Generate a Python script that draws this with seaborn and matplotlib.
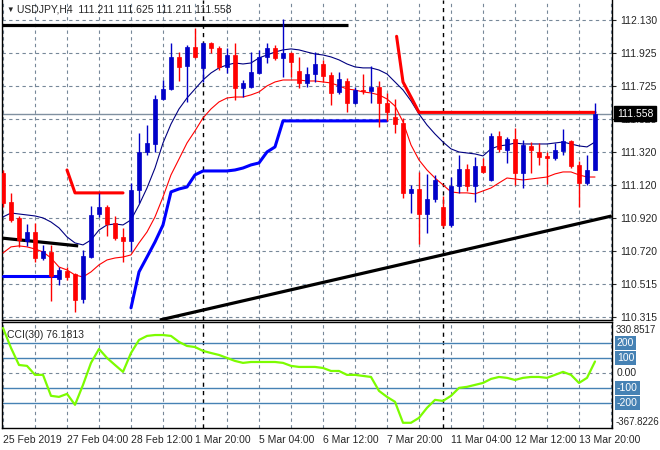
import numpy as np
import pandas as pd
import matplotlib
matplotlib.use("Agg")
import matplotlib.pyplot as plt
import matplotlib.transforms as mtransforms
import seaborn as sns

# ---- data (USDJPY H4, one entry per bar) ----
opens = [111.195, 111.018, 110.920, 110.779, 110.834, 110.675, 110.712, 110.547, 110.596, 110.578,
         110.425, 110.681, 110.944, 110.987, 110.889, 110.804, 110.779, 111.091, 111.323, 111.372,
         111.647, 111.708, 111.904, 111.849, 111.965, 111.837, 111.989, 111.959, 111.843, 111.916,
         111.714, 111.720, 111.806, 111.904, 111.959, 111.898, 111.928, 111.818, 111.745, 111.800,
         111.861, 111.794, 111.690, 111.757, 111.623, 111.702, 111.696, 111.720, 111.623, 111.537,
         111.500, 111.073, 111.097, 110.944, 111.036, 110.987, 110.877, 111.115, 111.219, 111.115,
         111.238, 111.152, 111.421, 111.335, 111.403, 111.195, 111.360, 111.323, 111.299, 111.287,
         111.329, 111.391, 111.244, 111.134, 111.211]
highs = [111.213, 111.073, 110.932, 110.883, 110.889, 110.755, 110.755, 110.620, 110.620, 110.584,
         110.724, 110.993, 111.073, 110.999, 110.932, 110.859, 111.134, 111.439, 111.488, 111.672,
         111.763, 111.989, 111.934, 111.977, 112.081, 111.996, 111.996, 111.971, 111.959, 111.989,
         111.763, 111.934, 111.947, 111.989, 111.977, 112.136, 111.934, 111.904, 111.843, 111.934,
         111.886, 111.812, 111.812, 111.775, 111.720, 111.800, 111.849, 111.757, 111.684, 111.647,
         111.531, 111.122, 111.201, 111.189, 111.183, 111.054, 111.170, 111.305, 111.250, 111.293,
         111.287, 111.439, 111.452, 111.415, 111.470, 111.397, 111.384, 111.378, 111.323, 111.378,
         111.464, 111.397, 111.268, 111.305, 111.625]
lows = [110.987, 110.895, 110.743, 110.749, 110.651, 110.663, 110.413, 110.510, 110.541, 110.345,
        110.400, 110.675, 110.926, 110.810, 110.785, 110.651, 110.718, 111.012, 111.305, 111.323,
        111.641, 111.702, 111.757, 111.629, 111.898, 111.751, 111.928, 111.824, 111.806, 111.641,
        111.659, 111.714, 111.800, 111.867, 111.886, 111.782, 111.782, 111.714, 111.720, 111.751,
        111.751, 111.610, 111.678, 111.568, 111.617, 111.678, 111.623, 111.476, 111.513, 111.439,
        111.042, 110.950, 110.761, 110.828, 111.018, 110.865, 110.865, 111.073, 111.085, 111.018,
        111.195, 111.146, 111.323, 111.256, 111.122, 111.103, 111.195, 111.244, 111.128, 111.274,
        111.305, 111.225, 110.987, 111.122, 111.211]
closes = [111.012, 110.908, 110.785, 110.834, 110.675, 110.718, 110.565, 110.602, 110.559, 110.419,
          110.687, 110.938, 110.987, 110.883, 110.797, 110.779, 111.091, 111.323, 111.378, 111.647,
          111.708, 111.904, 111.843, 111.965, 111.904, 111.989, 111.959, 111.843, 111.916, 111.714,
          111.745, 111.812, 111.904, 111.959, 111.898, 111.928, 111.873, 111.745, 111.800, 111.861,
          111.788, 111.684, 111.769, 111.623, 111.702, 111.696, 111.720, 111.623, 111.568, 111.494,
          111.073, 111.097, 110.944, 111.036, 111.152, 110.877, 111.115, 111.219, 111.115, 111.238,
          111.201, 111.421, 111.342, 111.403, 111.195, 111.366, 111.335, 111.293, 111.287, 111.335,
          111.391, 111.238, 111.134, 111.213, 111.558]

# moving averages (upper navy, lower red)
ma_upper = [110.926, 110.950, 110.944, 110.938, 110.932, 110.920, 110.895, 110.859, 110.804, 110.767,
            110.755, 110.785, 110.846, 110.877, 110.883, 110.877, 110.908, 110.999, 111.103, 111.225,
            111.378, 111.494, 111.586, 111.653, 111.708, 111.763, 111.806, 111.837, 111.855, 111.867,
            111.861, 111.867, 111.898, 111.916, 111.934, 111.947, 111.953, 111.947, 111.934, 111.922,
            111.916, 111.904, 111.886, 111.861, 111.843, 111.837, 111.837, 111.824, 111.800, 111.751,
            111.702, 111.635, 111.555, 111.488, 111.433, 111.384, 111.342, 111.323, 111.317, 111.311,
            111.299, 111.342, 111.360, 111.366, 111.378, 111.372, 111.372, 111.372, 111.372, 111.378,
            111.384, 111.372, 111.360, 111.354, 111.384]
ma_lower = [110.706, 110.743, 110.749, 110.743, 110.730, 110.712, 110.675, 110.620, 110.602, 110.571,
            110.559, 110.590, 110.633, 110.663, 110.675, 110.681, 110.694, 110.767, 110.834, 110.926,
            111.048, 111.183, 111.280, 111.378, 111.452, 111.531, 111.586, 111.629, 111.653, 111.659,
            111.659, 111.672, 111.690, 111.727, 111.751, 111.763, 111.763, 111.763, 111.757, 111.757,
            111.751, 111.745, 111.727, 111.708, 111.702, 111.690, 111.684, 111.672, 111.647, 111.604,
            111.507, 111.366, 111.274, 111.213, 111.164, 111.122, 111.079, 111.073, 111.073, 111.067,
            111.085, 111.103, 111.134, 111.164, 111.158, 111.152, 111.158, 111.164, 111.170, 111.189,
            111.201, 111.201, 111.183, 111.170, 111.170]

# blue trailing stop line
trail_a_bars = [0, 1, 2, 3, 4, 5, 6, 7]
trail_a = [110.565, 110.565, 110.565, 110.565, 110.565, 110.565, 110.565, 110.565]
trail_b_bars = list(range(16, 49))
trail_b = [110.370, 110.590, 110.681, 110.773, 110.877, 111.079, 111.097, 111.109, 111.183, 111.207,
           111.207, 111.207, 111.207, 111.213, 111.225, 111.244, 111.256, 111.323, 111.354, 111.513,
           111.513, 111.513, 111.513, 111.513, 111.513, 111.513, 111.513, 111.513, 111.513, 111.513,
           111.513, 111.513, 111.513]

# red resistance lines
res_a_bars = [8, 9, 15]
res_a = [111.213, 111.073, 111.073]
res_b_bars = [49.2, 50, 51, 52, 74]
res_b = [112.030, 111.751, 111.659, 111.565, 111.565]

# black trend lines (bar, price)
trend_top = ([-0.4, 43.1], [112.102, 112.102])
trend_left = ([-0.4, 9.4], [110.798, 110.749])
trend_up = ([19.6, 76.1], [110.296, 110.932])

bid = 111.558

cci = [300, 167, 53, 47, -13, -13, -153, -160, -140, -213,
       -80, 67, 160, 100, 53, 7, 133, 220, 247, 253,
       253, 247, 207, 180, 173, 147, 133, 120, 100, 80,
       67, 73, 73, 73, 73, 67, 47, 40, 40, 40,
       33, 13, 13, -13, -13, -20, -27, -120, -160, -193,
       -333, -333, -300, -233, -180, -187, -153, -100, -93, -80,
       -67, -40, -27, -33, -47, -33, -27, -27, -33, -13,
       7, -13, -67, -33, 76.18]

price_ticks = [110.315, 110.515, 110.720, 110.920, 111.120, 111.320, 111.525, 111.725, 111.925, 112.130]
date_bars = [0, 8, 16, 24, 32, 40, 48, 56, 64, 72]
date_labels = ["25 Feb 2019", "27 Feb 04:00", "28 Feb 12:00", "1 Mar 20:00", "5 Mar 04:00",
               "6 Mar 12:00", "7 Mar 20:00", "11 Mar 04:00", "12 Mar 12:00", "13 Mar 20:00"]
separators = [25, 55]
cci_levels = [200, 100, -100, -200]

# ---- drawing ----
sns.set_style("white")
plt.rcParams['font.family'] = ['Liberation Sans', 'DejaVu Sans']
plt.rcParams['font.size'] = 7.5

bars = np.arange(len(opens))
df = pd.DataFrame({"bar": bars, "open": opens, "high": highs, "low": lows, "close": closes,
                   "ma_upper": ma_upper, "ma_lower": ma_lower, "cci": cci})

W, H = 660, 450
fig = plt.figure(figsize=(6.6, 4.5), dpi=100)
ax = fig.add_axes([2 / W, 1 - 320 / H, 610 / W, 320 / H])
ax2 = fig.add_axes([2 / W, 1 - 428 / H, 610 / W, 106 / H])

grid_kw = dict(color="#778899", linestyle=(0, (3, 3)), linewidth=0.8)
for a in (ax, ax2):
    a.set_xlim(-0.125, 76.125)
    a.set_xticks(date_bars)
    a.set_xticks(range(4, 77, 8), minor=True)
    a.grid(True, axis="x", which="both", **grid_kw)
    a.set_axisbelow(True)
    for s in a.spines.values():
        s.set_color("black")
        s.set_linewidth(1)
    for b in separators:
        a.axvline(b, color="black", linestyle=(0, (3, 3)), linewidth=1, zorder=1)

# main panel
ax.set_ylim(110.296, 112.252)
ax.spines["top"].set_visible(False)
ax.yaxis.tick_right()
ax.set_yticks(price_ticks)
ax.set_yticklabels([f"{t:.3f}" for t in price_ticks])
ax.grid(True, axis="y", **grid_kw)
ax.tick_params(axis="y", direction="out", length=3, pad=3, labelsize=7.5)
ax.tick_params(axis="x", which="both", length=0, labelbottom=False)

ax.axhline(bid, color="#8090a0", linewidth=1, zorder=2)

sns.lineplot(data=df, x="bar", y="ma_upper", ax=ax, color="#000080", linewidth=0.8, zorder=3)
sns.lineplot(data=df, x="bar", y="ma_lower", ax=ax, color="#ff0000", linewidth=0.8, zorder=3)
sns.lineplot(x=trail_a_bars, y=trail_a, ax=ax, color="#0000ff", linewidth=2.2, zorder=3)
sns.lineplot(x=trail_b_bars, y=trail_b, ax=ax, color="#0000ff", linewidth=2.2, zorder=3)
sns.lineplot(x=res_a_bars, y=res_a, ax=ax, color="#ff0000", linewidth=2.2, zorder=3)
sns.lineplot(x=res_b_bars, y=res_b, ax=ax, color="#ff0000", linewidth=2.2, zorder=3)
for xs, ys in (trend_top, trend_left, trend_up):
    ax.plot(xs, ys, color="black", linewidth=2.3, zorder=3, solid_capstyle="butt")

up = df["close"] >= df["open"]
colors = np.where(up, "#0000c8", "#ff0000")
ax.vlines(df["bar"], df["low"], df["high"], colors=colors, linewidth=1, zorder=4)
body_lo = np.minimum(df["open"], df["close"])
body_h = np.maximum((df["close"] - df["open"]).abs(), 0.005)
ax.bar(df["bar"], body_h, bottom=body_lo, width=0.6, color=colors, edgecolor=colors,
       linewidth=0.5, zorder=5)
ax.set_xlabel("")
ax.set_ylabel("")

trans = mtransforms.blended_transform_factory(ax.transAxes, ax.transData)
ax.text(1.008, bid, f"{bid:.3f}", transform=trans, color="white", fontsize=7.5, va="center",
        ha="left", zorder=10, clip_on=False,
        bbox=dict(facecolor="black", edgecolor="black", boxstyle="square,pad=0.25"))

fig.text(6 / W, 1 - 10 / H, "\u25BC", fontsize=5.5, va="center", ha="left")
fig.text(17 / W, 1 - 10 / H, "USDJPY,H4  111.211 111.625 111.211 111.558", va="center", ha="left")

# CCI panel
sns.lineplot(data=df, x="bar", y="cci", ax=ax2, color="#7cfc00", linewidth=1.6, zorder=4)
ax2.set_ylim(-367.8, 340)
for lv in cci_levels:
    ax2.axhline(lv, color="#4682b4", linewidth=1, zorder=2)
ax2.axhline(0, **grid_kw)
ax2.set_yticks([])
ax2.set_xticklabels(date_labels, ha="left")
ax2.tick_params(axis="x", which="major", direction="out", length=3, pad=2, labelsize=7.5)
ax2.tick_params(axis="x", which="minor", length=0)
ax2.set_xlabel("")
ax2.set_ylabel("")

trans2 = mtransforms.blended_transform_factory(ax2.transAxes, ax2.transData)
ax2.text(1.006, 284, "330.8517", transform=trans2, va="center", ha="left", clip_on=False,
         fontsize=7)
ax2.text(1.008, 0, "0.00", transform=trans2, va="center", ha="left", clip_on=False)
ax2.text(1.006, -327, "-367.8226", transform=trans2, va="center", ha="left", clip_on=False,
         fontsize=7)
for lv in cci_levels:
    ax2.text(1.008, lv, str(lv), transform=trans2, va="center", ha="left", color="white",
             clip_on=False, bbox=dict(facecolor="#4682b4", edgecolor="none", boxstyle="square,pad=0.2"))
ax2.text(0.008, 0.88, "CCI(30) 76.1813", transform=ax2.transAxes, va="center", ha="left")

fig.savefig("out.png", dpi=100)
